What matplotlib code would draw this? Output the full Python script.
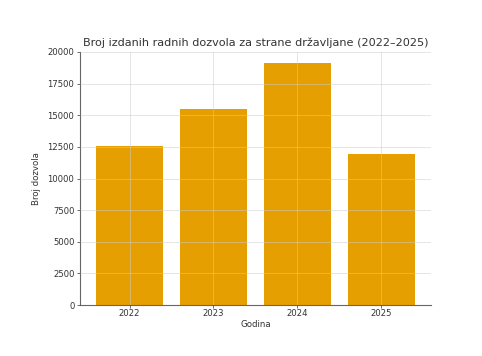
import matplotlib.pyplot as plt

# data
godine = ['2022', '2023', '2024', '2025']
dozvole = [12600, 15500, 19150, 11950]

fig = plt.figure(figsize=(4.82, 3.56), dpi=100)
ax = fig.add_axes([0.166, 0.143, 0.728, 0.711])

ax.bar(godine, dozvole, width=0.8, color='#E69F00')
ax.set_ylim(0, 20000)
ax.set_yticks(range(0, 20001, 2500))

ax.grid(True, color='#cccccc', linewidth=0.6, alpha=0.6)
ax.set_axisbelow(False)

for s in ['top', 'right']:
    ax.spines[s].set_visible(False)
for s in ['left', 'bottom']:
    ax.spines[s].set_color('#666666')
    ax.spines[s].set_linewidth(0.8)

ax.tick_params(labelsize=6.1, colors='#333333', length=2, width=0.5, pad=2)
ax.tick_params(axis='x', pad=1)
ax.set_title('Broj izdanih radnih dozvola za strane državljane (2022–2025)',
             fontsize=8.1, color='#333333', pad=4)
ax.set_xlabel('Godina', fontsize=6.2, labelpad=1, color='#333333')
ax.set_ylabel('Broj dozvola', fontsize=6.2, labelpad=5, color='#333333')

fig.savefig('out.png', dpi=100)
